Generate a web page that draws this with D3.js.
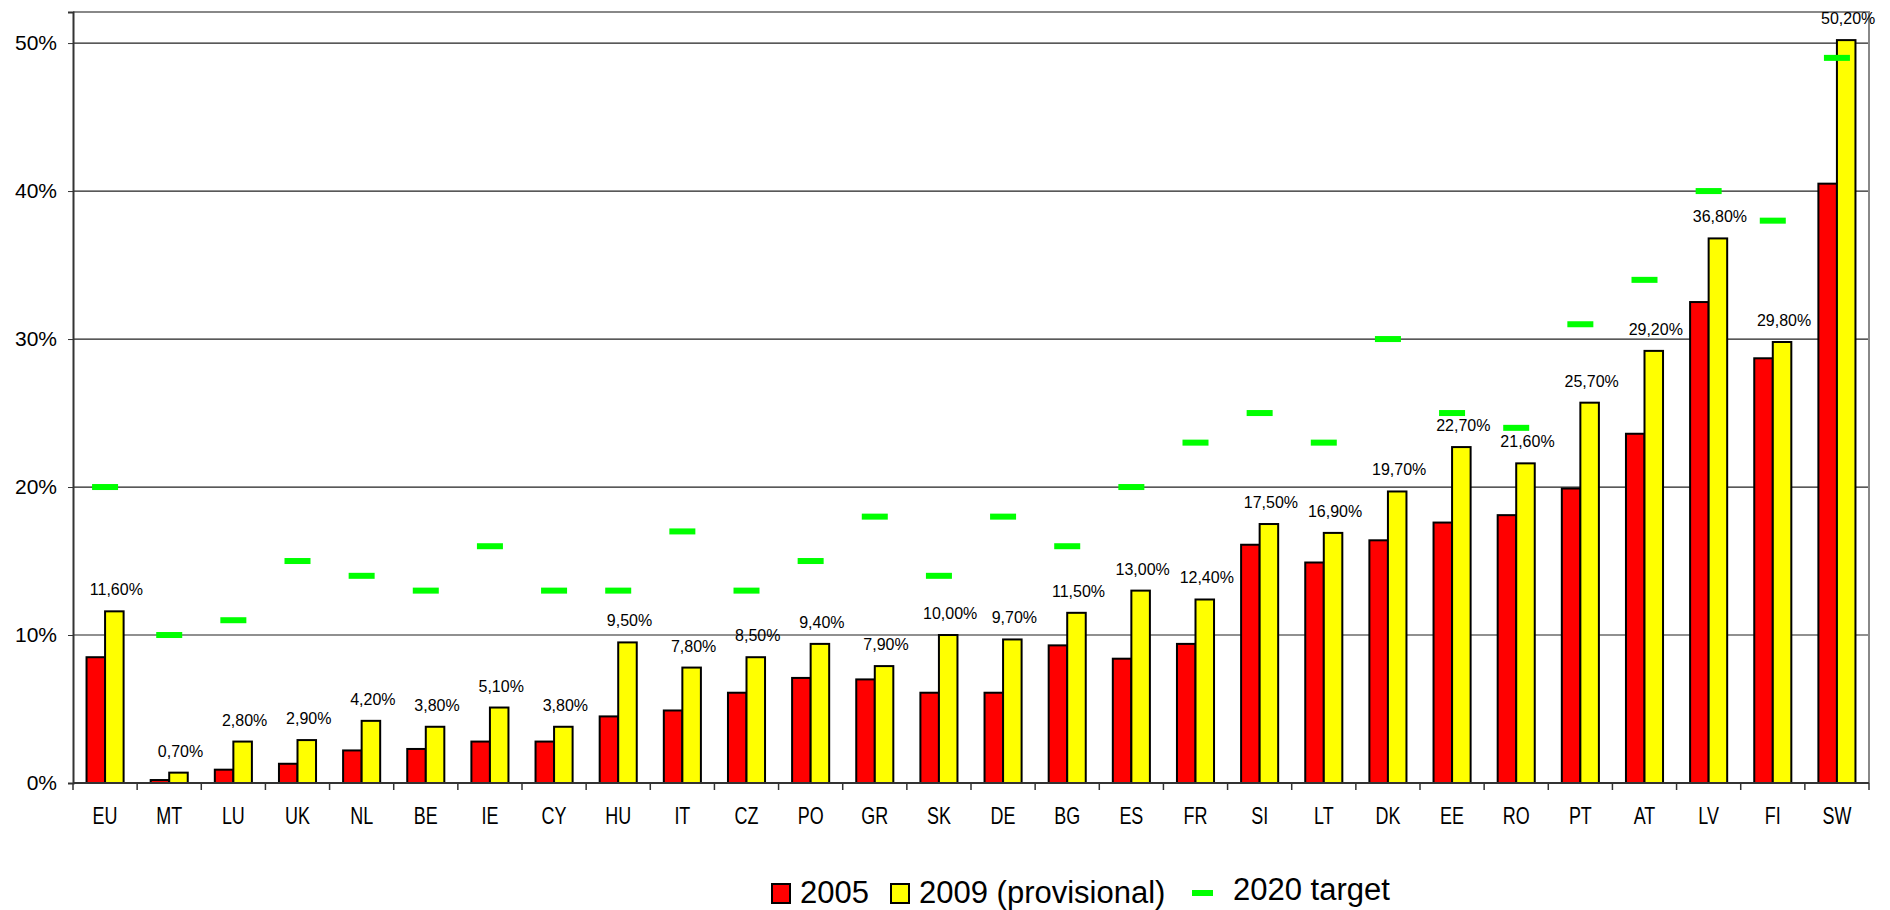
<!DOCTYPE html>
<html>
<head>
<meta charset="utf-8">
<script src="https://cdn.jsdelivr.net/npm/d3@7"></script>
<style>
  body { margin: 0; background: #fff; }
  text { font-family: "Liberation Sans", Arial, sans-serif; fill: #000; }
</style>
</head>
<body>
<div id="chart"></div>
<script>
// countries, in the order of the picture
var countries = ["EU", "MT", "LU", "UK", "NL", "BE", "IE", "CY", "HU", "IT", "CZ", "PO", "GR", "SK",
                 "DE", "BG", "ES", "FR", "SI", "LT", "DK", "EE", "RO", "PT", "AT", "LV", "FI", "SW"];

// share of renewables, %
var values2005 = [8.5, 0.2, 0.9, 1.3, 2.2, 2.3, 2.8, 2.8, 4.5, 4.9, 6.1, 7.1, 7.0, 6.1,
                  6.1, 9.3, 8.4, 9.4, 16.1, 14.9, 16.4, 17.6, 18.1, 19.9, 23.6, 32.5, 28.7, 40.5];
var values2009 = [11.6, 0.7, 2.8, 2.9, 4.2, 3.8, 5.1, 3.8, 9.5, 7.8, 8.5, 9.4, 7.9, 10.0,
                  9.7, 11.5, 13.0, 12.4, 17.5, 16.9, 19.7, 22.7, 21.6, 25.7, 29.2, 36.8, 29.8, 50.2];
var targets2020 = [20, 10, 11, 15, 14, 13, 16, 13, 13, 17, 13, 15, 18, 14,
                   18, 16, 20, 23, 25, 23, 30, 25, 24, 31, 34, 40, 38, 49];

var yTicks = [0, 10, 20, 30, 40, 50];

var width = 1890, height = 910;
// plot box (note: "top" is taken by window.top, so use other names)
var plotLeft = 73, plotRight = 1869, plotTop = 12, plotBottom = 783;

var svg = d3.select("#chart").append("svg")
    .attr("width", width)
    .attr("height", height);

var x0 = d3.scaleBand()
    .domain(countries)
    .range([plotLeft, plotRight])
    .padding(0);

var x1 = d3.scaleBand()
    .domain(["2005", "2009"])
    .range([0, x0.bandwidth()])
    .paddingInner(0)
    .paddingOuter(0.73);

var y = d3.scaleLinear()
    .domain([0, 52.1])
    .range([plotBottom, plotTop]);

// grid lines
svg.append("g")
    .selectAll("line")
    .data(yTicks.slice(1))
    .enter().append("line")
    .attr("x1", plotLeft).attr("x2", plotRight)
    .attr("y1", function(d) { return y(d); })
    .attr("y2", function(d) { return y(d); })
    .attr("stroke", "#222")
    .attr("stroke-width", 1.2);

// top and right border of the plot
svg.append("path")
    .attr("d", "M" + plotLeft + "," + plotTop + "H" + plotRight + "V" + plotBottom)
    .attr("fill", "none")
    .attr("stroke", "#888")
    .attr("stroke-width", 2);

var rows = countries.map(function(c, i) {
    return {country: c, v2005: values2005[i], v2009: values2009[i], target: targets2020[i]};
});

var groups = svg.append("g")
    .selectAll("g")
    .data(rows)
    .enter().append("g")
    .attr("transform", function(d) { return "translate(" + x0(d.country) + ",0)"; });

groups.append("rect")
    .attr("x", x1("2005"))
    .attr("width", x1.bandwidth())
    .attr("y", function(d) { return y(d.v2005); })
    .attr("height", function(d) { return plotBottom - y(d.v2005); })
    .attr("fill", "#ff0000")
    .attr("stroke", "#000")
    .attr("stroke-width", 2);

groups.append("rect")
    .attr("x", x1("2009"))
    .attr("width", x1.bandwidth())
    .attr("y", function(d) { return y(d.v2009); })
    .attr("height", function(d) { return plotBottom - y(d.v2009); })
    .attr("fill", "#ffff00")
    .attr("stroke", "#000")
    .attr("stroke-width", 2);

// 2020 targets as green dashes
groups.append("rect")
    .attr("x", x0.bandwidth() / 2 - 13)
    .attr("width", 26)
    .attr("y", function(d) { return y(d.target) - 3; })
    .attr("height", 6)
    .attr("fill", "#00ff00");

// labels on the 2009 bars
groups.append("text")
    .attr("x", x1("2009") + x1.bandwidth() / 2 + 2)
    .attr("y", function(d) { return y(d.v2009) - 16; })
    .attr("text-anchor", "middle")
    .style("font-size", "16px")
    .text(function(d) { return d.v2009.toFixed(2).replace(".", ",") + "%"; });

// y axis
var yAxis = d3.axisLeft(y)
    .tickValues(yTicks)
    .tickSize(5)
    .tickPadding(11)
    .tickFormat(function(d) { return d + "%"; });

var gy = svg.append("g")
    .attr("transform", "translate(" + plotLeft + ",0)")
    .call(yAxis);
gy.select(".domain").attr("stroke", "#333").attr("stroke-width", 2);
gy.selectAll(".tick line").attr("stroke", "#333");
gy.selectAll(".tick text")
    .style("font-size", "21px")
    .style("font-family", "'Liberation Sans', Arial, sans-serif");

// x axis line + ticks between countries
svg.append("line")
    .attr("x1", plotLeft).attr("x2", plotRight)
    .attr("y1", plotBottom).attr("y2", plotBottom)
    .attr("stroke", "#333")
    .attr("stroke-width", 2);

var bounds = countries.map(function(c) { return x0(c); }).concat([plotRight]);
svg.append("g")
    .selectAll("line")
    .data(bounds)
    .enter().append("line")
    .attr("x1", function(d) { return d; })
    .attr("x2", function(d) { return d; })
    .attr("y1", plotBottom).attr("y2", plotBottom + 7)
    .attr("stroke", "#333")
    .attr("stroke-width", 1.5);

// country names, a bit narrow like the original
svg.append("g")
    .selectAll("text")
    .data(countries)
    .enter().append("text")
    .attr("transform", function(d) {
        return "translate(" + (x0(d) + x0.bandwidth() / 2) + ",824) scale(0.78,1)";
    })
    .attr("text-anchor", "middle")
    .style("font-size", "23px")
    .text(function(d) { return d; });

// legend
var legend = svg.append("g");
legend.append("rect")
    .attr("x", 772).attr("y", 884).attr("width", 18).attr("height", 19)
    .attr("fill", "#ff0000").attr("stroke", "#000").attr("stroke-width", 2);
legend.append("text")
    .attr("x", 800).attr("y", 903)
    .style("font-size", "31px")
    .text("2005");
legend.append("rect")
    .attr("x", 891).attr("y", 884).attr("width", 18).attr("height", 19)
    .attr("fill", "#ffff00").attr("stroke", "#000").attr("stroke-width", 2);
legend.append("text")
    .attr("x", 919).attr("y", 903)
    .style("font-size", "31px")
    .text("2009 (provisional)");
legend.append("rect")
    .attr("x", 1192).attr("y", 890).attr("width", 21).attr("height", 6)
    .attr("fill", "#00ff00");
legend.append("text")
    .attr("x", 1233).attr("y", 900)
    .style("font-size", "31px")
    .text("2020 target");
</script>
</body>
</html>
